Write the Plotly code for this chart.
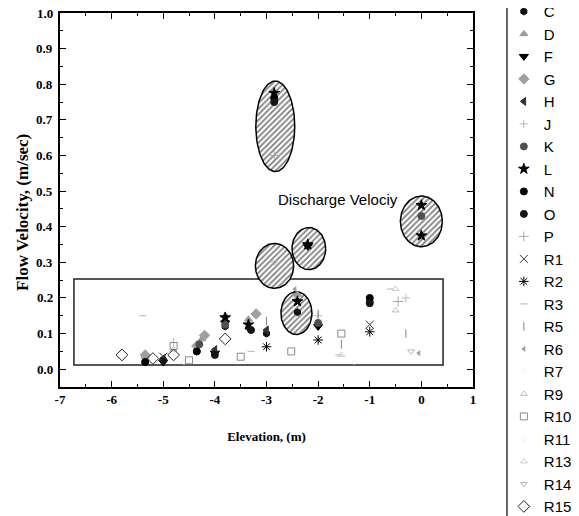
import numpy as np
import plotly.graph_objects as go

# ---------------- data ----------------
series_names = ["C", "D", "F", "G", "H", "J", "K", "L", "N", "O", "P",
                "R1", "R2", "R3", "R5", "R6", "R7", "R9", "R10", "R11", "R13", "R14", "R15"]

C_x = [-5.35, -4.35, -3.8, -3.0, -2.4];  C_y = [0.02, 0.05, 0.12, 0.10, 0.16]
D_x = [-5.35, -4.25, -3.35, -2.4, -3.8]; D_y = [0.035, 0.085, 0.14, 0.21, 0.15]
F_x = [-5.0, -4.0, -3.8, -2.2, -2.0];    F_y = [0.02, 0.045, 0.13, 0.345, 0.12]
G_x = [-5.35, -4.2, -3.2, -4.35];        G_y = [0.04, 0.095, 0.155, 0.065]
H_x = [-5.0, -4.0, -3.0, -3.35];         H_y = [0.03, 0.055, 0.11, 0.115]
J_x = [-4.8, -2.0, -0.3];                J_y = [0.075, 0.15, 0.2]
K_x = [-4.3, -3.8, -2.0, -1.0, 0.0];     K_y = [0.07, 0.125, 0.13, 0.19, 0.43]
L_x = [-3.8, -3.35, -2.85, -2.4, 0.0, 0.0, -2.2]
L_y = [0.145, 0.125, 0.775, 0.19, 0.46, 0.375, 0.35]
N_x = [-5.35, -4.35, -2.85, -1.0];       N_y = [0.02, 0.05, 0.76, 0.2]
O_x = [-5.0, -3.3, -2.85, -1.0, -4.0];   O_y = [0.025, 0.11, 0.75, 0.185, 0.04]
P_x = [-2.85, -0.45];                    P_y = [0.6, 0.19]
R1_x = [-5.0, -1.0];                     R1_y = [0.035, 0.125]
R2_x = [-3.0, -2.0, -1.0];               R2_y = [0.063, 0.082, 0.105]
R3_x = [-5.4, -3.3, -1.6, -0.6];         R3_y = [0.15, 0.05, 0.04, 0.225]
R5_x = [-2.0, -1.55, -0.3, -3.0];        R5_y = [0.155, 0.07, 0.1, 0.135]
R6_x = [-2.45, -0.05];                   R6_y = [0.225, 0.045]
R7_x = [-4.6];                           R7_y = [0.02]
R9_x = [-0.5, -4.8];                     R9_y = [0.165, 0.055]
R10_x = [-4.8, -4.5, -3.5, -2.52, -1.55]; R10_y = [0.065, 0.025, 0.035, 0.05, 0.1]
R11_x = [-1.3];                          R11_y = [0.02]
R13_x = [-0.5, -1.55];                   R13_y = [0.225, 0.04]
R14_x = [-2.85, -0.2];                   R14_y = [0.3, 0.05]
R15_x = [-5.8, -5.2, -4.8, -3.8];        R15_y = [0.04, 0.03, 0.04, 0.085]

# highlighted groups (ellipse centre / half-widths in data units)
ell_cx = [-2.83, -2.845, -2.18, 0.0, -2.42]
ell_cy = [0.682, 0.29, 0.3385, 0.415, 0.1575]
ell_rx = [0.377, 0.37, 0.326, 0.406, 0.30]
ell_ry = [0.127, 0.063, 0.059, 0.071, 0.06]

box_x = [-6.73, 0.42]
box_y = [0.012, 0.253]

label_text = "Discharge Velociy"
label_pos = (-1.62, 0.477)

x_ticks = [-7, -6, -5, -4, -3, -2, -1, 0, 1]
y_ticks = [0.0, 0.1, 0.2, 0.3, 0.4, 0.5, 0.6, 0.7, 0.8, 0.9, 1.0]
y_tick_labels = ["0.0", "0.1", "0.2", "0.3", "0.4", "0.5", "0.6", "0.7", "0.8", "0.9", "1.0"]

data = {
    "C": (C_x, C_y), "D": (D_x, D_y), "F": (F_x, F_y), "G": (G_x, G_y), "H": (H_x, H_y),
    "J": (J_x, J_y), "K": (K_x, K_y), "L": (L_x, L_y), "N": (N_x, N_y), "O": (O_x, O_y),
    "P": (P_x, P_y), "R1": (R1_x, R1_y), "R2": (R2_x, R2_y), "R3": (R3_x, R3_y),
    "R5": (R5_x, R5_y), "R6": (R6_x, R6_y), "R7": (R7_x, R7_y), "R9": (R9_x, R9_y),
    "R10": (R10_x, R10_y), "R11": (R11_x, R11_y), "R13": (R13_x, R13_y),
    "R14": (R14_x, R14_y), "R15": (R15_x, R15_y),
}

# ---------------- styles ----------------
styles = {
    "C": ("hexagon", "#111111", 7),
    "D": ("triangle-up", "#9a9a9a", 7),
    "F": ("triangle-down", "#000000", 8),
    "G": ("diamond", "#a0a0a0", 8),
    "H": ("triangle-left", "#333333", 7),
    "J": ("cross-thin-open", "#b8b8b8", 6),
    "K": ("circle", "#505050", 7),
    "L": ("star", "#000000", 8),
    "N": ("circle", "#000000", 7),
    "O": ("circle", "#151515", 7),
    "P": ("cross-thin-open", "#a8a8a8", 7),
    "R1": ("x-thin-open", "#333333", 8),
    "R2": ("asterisk-open", "#000000", 8),
    "R3": ("line-ew-open", "#b5b5b5", 5),
    "R5": ("line-ns-open", "#808080", 6),
    "R6": ("triangle-left", "#a0a0a0", 4),
    "R7": ("circle-open", "#f2f2f2", 4),
    "R9": ("triangle-up-open", "#bdbdbd", 6),
    "R10": ("square-open", "#8a8a8a", 7),
    "R11": ("circle-open", "#f2f2f2", 4),
    "R13": ("triangle-up-open", "#cccccc", 6),
    "R14": ("triangle-down-open", "#b5b5b5", 6),
    "R15": ("diamond-open", "#222222", 9),
}

fig = go.Figure()

# hatched ellipses
t = np.linspace(0, 2 * np.pi, 121)
for cx, cy, rx, ry in zip(ell_cx, ell_cy, ell_rx, ell_ry):
    fig.add_trace(go.Scatter(
        x=cx + rx * np.cos(t), y=cy + ry * np.sin(t),
        mode="lines", fill="toself",
        line=dict(color="black", width=1.5),
        fillcolor="white",
        fillpattern=dict(shape="/", size=4, solidity=0.45, fgcolor="#000000", bgcolor="white"),
        showlegend=False, hoverinfo="skip",
    ))

for name in series_names:
    xs, ys = data[name]
    sym, col, sz = styles[name]
    fig.add_trace(go.Scatter(
        x=xs, y=ys, mode="markers", name=name,
        marker=dict(symbol=sym, color=col, size=sz, line=dict(color=col, width=1)),
    ))

fig.add_shape(type="rect", xref="x", yref="y",
              x0=box_x[0], x1=box_x[1], y0=box_y[0], y1=box_y[1],
              line=dict(color="#222222", width=1.5), layer="below")

# legend frame edge (left border running the full height)
fig.add_shape(type="line", xref="paper", yref="paper",
              x0=1.0823, x1=1.0823, y0=-0.45, y1=1.1,
              line=dict(color="black", width=1.2))

fig.add_annotation(x=label_pos[0], y=label_pos[1], text=label_text, showarrow=False,
                   font=dict(family="Liberation Sans, Arial", size=15, color="black"))

fig.add_annotation(x=-0.0896, y=0.468, xref="paper", yref="paper",
                   xanchor="center", yanchor="middle",
                   text="Flow Velocity, (m/sec)", textangle=-90, showarrow=False,
                   font=dict(family="Liberation Serif, Times New Roman", size=17,
                             color="black", weight="bold"))

tick_font = dict(family="Liberation Serif, Times New Roman", size=13, color="black", weight="bold")

# y tick labels placed close to the axis line
for v, lab in zip(y_ticks, y_tick_labels):
    fig.add_annotation(x=0, y=v, xref="paper", yref="y", text=lab, showarrow=False,
                       xanchor="right", yanchor="middle", xshift=-5, font=tick_font)

fig.update_xaxes(
    range=[-7, 1], tickvals=x_ticks, ticktext=[str(v) for v in x_ticks],
    ticks="inside", ticklen=6, tickwidth=1.2, tickcolor="black",
    minor=dict(dtick=0.5, tick0=0, ticks="inside", ticklen=3, tickcolor="black"),
    showline=True, linecolor="black", linewidth=1.5, mirror="allticks",
    showgrid=False, zeroline=False, tickfont=tick_font,
    title=dict(text="Elevation, (m)", standoff=26,
               font=dict(family="Liberation Serif, Times New Roman", size=13, color="black", weight="bold")),
)
fig.update_yaxes(
    range=[-0.05, 1.0], tickvals=y_ticks, showticklabels=False,
    ticks="inside", ticklen=6, tickwidth=1.2, tickcolor="black",
    minor=dict(dtick=0.05, tick0=0, ticks="inside", ticklen=3, tickcolor="black"),
    showline=True, linecolor="black", linewidth=1.5, mirror="allticks",
    showgrid=False, zeroline=False,
)

fig.update_layout(
    width=571, height=508,
    margin=dict(l=52, r=106, t=5, b=129, autoexpand=False),
    paper_bgcolor="white", plot_bgcolor="white",
    legend=dict(
        x=1.0747, y=1.0477, xanchor="left", yanchor="top",
        font=dict(family="Liberation Sans, Arial", size=15, color="black"),
        borderwidth=0, bgcolor="rgba(0,0,0,0)",
        maxheight=900, tracegroupgap=0,
    ),
    showlegend=True,
)

fig.write_html("out.html")
